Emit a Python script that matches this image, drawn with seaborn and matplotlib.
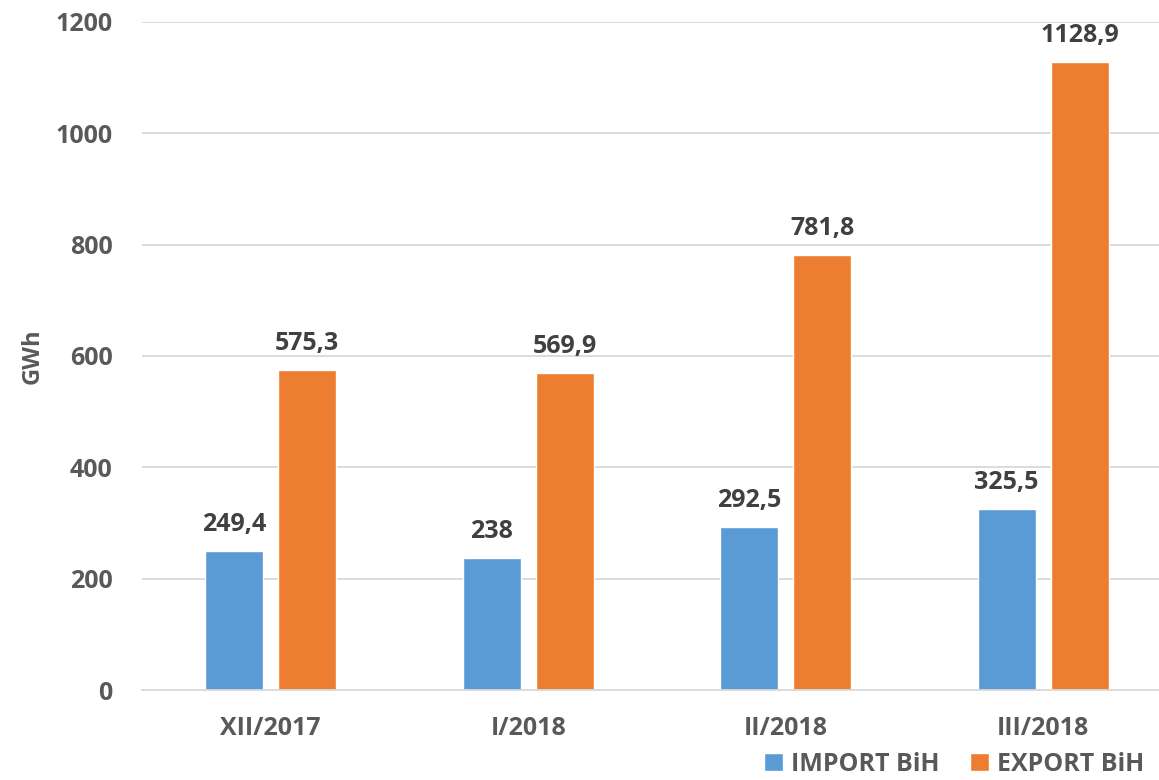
import pandas as pd
import matplotlib.pyplot as plt
import seaborn as sns

# Monthly electricity import/export values (GWh)
months = ['XII/2017', 'I/2018', 'II/2018', 'III/2018']
import_vals = [249.4, 238.0, 292.5, 325.5]
export_vals = [575.3, 569.9, 781.8, 1128.9]
import_labels = ['249,4', '238', '292,5', '325,5']
export_labels = ['575,3', '569,9', '781,8', '1128,9']
series = ['IMPORT BiH', 'EXPORT BiH']

df = pd.DataFrame({
    'Mjesec': months * 2,
    'Serija': [series[0]] * 4 + [series[1]] * 4,
    'GWh': import_vals + export_vals,
})

sns.set_theme(style='white')
plt.rcParams['font.family'] = ['Open Sans', 'DejaVu Sans']

fig = plt.figure(figsize=(11.59, 7.8), dpi=100)
ax = fig.add_axes([142 / 1159, 90 / 780, 1017 / 1159, 668 / 780])

sns.barplot(data=df, x='Mjesec', y='GWh', hue='Serija', order=months,
            hue_order=series, palette=['#5B9BD5', '#ED7D31'],
            width=0.568, gap=0.205, ax=ax, saturation=1)

ax.set_ylim(0, 1200)
ax.set_xlim(-0.5, 3.45)
ax.set_yticks(range(0, 1201, 200))
ax.yaxis.grid(True, color='#d9d9d9', linewidth=1.3)
ax.set_axisbelow(True)
for side in ['top', 'right', 'left']:
    ax.spines[side].set_visible(False)
ax.spines['bottom'].set_color('#d9d9d9')
ax.spines['bottom'].set_linewidth(1.3)
ax.tick_params(axis='both', length=0, labelsize=18, labelcolor='#595959')
ax.tick_params(axis='y', pad=21)
ax.tick_params(axis='x', pad=19)
for t in ax.get_xticklabels() + ax.get_yticklabels():
    t.set_fontweight('bold')
ax.set_xlabel('')
ax.set_ylabel('GWh', fontsize=17, fontweight='bold', color='#595959', labelpad=8)

for cont, labels in zip(ax.containers, [import_labels, export_labels]):
    ax.bar_label(cont, labels=labels, padding=10, fontsize=18,
                 fontweight='bold', color='#404040')

handles, _ = ax.get_legend_handles_labels()
ax.legend(handles, series, loc='lower right', bbox_to_anchor=(1.008, -0.164),
          ncol=2, frameon=False, handlelength=0.75, handleheight=0.75,
          handletextpad=0.35, columnspacing=1.2,
          prop={'size': 18, 'weight': 'bold'}, labelcolor='#595959')

fig.savefig('out.png', dpi=100)
